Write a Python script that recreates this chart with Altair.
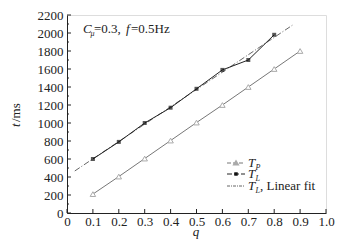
import altair as alt
import pandas as pd

# Data
q_p = [0.1, 0.2, 0.3, 0.4, 0.5, 0.6, 0.7, 0.8, 0.9]
t_p = [210, 405, 605, 805, 1005, 1200, 1400, 1600, 1800]
q_l = [0.1, 0.2, 0.3, 0.4, 0.5, 0.6, 0.7, 0.8]
t_l = [600, 790, 1000, 1170, 1380, 1590, 1700, 1980]
fit_q = [0.03, 0.87]
fit_t = [467, 2086]
x_ticks = [0, 0.1, 0.2, 0.3, 0.4, 0.5, 0.6, 0.7, 0.8, 0.9, 1.0]
y_ticks = [0, 200, 400, 600, 800, 1000, 1200, 1400, 1600, 1800, 2000, 2200]
y_minor = [100, 300, 500, 700, 900, 1100, 1300, 1500, 1700, 1900, 2100]

W, H = 259, 198
FONT = "Liberation Serif, Times New Roman, serif"
AX = "#222222"

xs = alt.Scale(domain=[0, 1], nice=False)
ys = alt.Scale(domain=[0, 2200], nice=False)

AXX = alt.Axis(values=x_ticks, ticks=False, grid=False, domainColor=AX,
               labelExpr="datum.value == 0 ? '0' : format(datum.value, '.1f')",
               labelFont=FONT, labelFontSize=13, labelColor=AX, labelPadding=2,
               title=None, labelFlush=False)
AXY = alt.Axis(values=y_ticks, ticks=False, grid=False, domainColor=AX,
               labelFont=FONT, labelFontSize=13, labelColor=AX, labelPadding=4,
               title=None, format="d")


def X(f):
    return alt.X(f, scale=xs, axis=AXX, title=None)


def Y(f):
    return alt.Y(f, scale=ys, axis=AXY, title=None)


dp = pd.DataFrame({"q": q_p, "t": t_p})
dl = pd.DataFrame({"q": q_l, "t": t_l})
dfit = pd.DataFrame({"q": fit_q, "t": fit_t})

fit = alt.Chart(dfit).mark_line(color="#666666", strokeWidth=1, strokeDash=[6, 2, 1, 2]).encode(
    x=X("q:Q"), y=Y("t:Q"))
lp = alt.Chart(dp).mark_line(color="#777777", strokeWidth=1).encode(x=X("q:Q"), y=Y("t:Q"))
pp = alt.Chart(dp).mark_point(shape="triangle-up", filled=False, color="#aaaaaa",
                              size=30, strokeWidth=1, fill="white", fillOpacity=1).encode(
    x=X("q:Q"), y=Y("t:Q"))
ll = alt.Chart(dl).mark_line(color="#222222", strokeWidth=1).encode(x=X("q:Q"), y=Y("t:Q"))
pl = alt.Chart(dl).mark_point(shape="square", filled=True, color="#111111", size=16).encode(
    x=X("q:Q"), y=Y("t:Q"))

# inward ticks
tx = alt.Chart(pd.DataFrame({"q": x_ticks})).mark_rule(color=AX, strokeWidth=1).encode(
    x=X("q:Q"), y=alt.value(H), y2=alt.value(H - 4))
tymaj = alt.Chart(pd.DataFrame({"t": y_ticks})).mark_rule(color=AX, strokeWidth=1).encode(
    y=Y("t:Q"), x=alt.value(0), x2=alt.value(4))
tymin = alt.Chart(pd.DataFrame({"t": y_minor})).mark_rule(color=AX, strokeWidth=1).encode(
    y=Y("t:Q"), x=alt.value(0), x2=alt.value(2))

one = pd.DataFrame({"a": [0]})


def txt(s, x, y, size=13, style="normal", angle=0, align="left", baseline="alphabetic"):
    return alt.Chart(one).mark_text(text=s, font=FONT, fontSize=size, fontStyle=style,
                                    angle=angle, align=align, baseline=baseline,
                                    color=AX).encode(x=alt.value(x), y=alt.value(y))


def seg(x1, x2, y, color, dash=None):
    kw = dict(color=color, strokeWidth=1)
    if dash:
        kw["strokeDash"] = dash
    return alt.Chart(one).mark_rule(**kw).encode(x=alt.value(x1), x2=alt.value(x2), y=alt.value(y))


def sym(x, y, shape, color, filled, size):
    return alt.Chart(one).mark_point(shape=shape, color=color, filled=filled, size=size,
                                     fill="white" if not filled else color, fillOpacity=1,
                                     opacity=1).encode(x=alt.value(x), y=alt.value(y))


annots = [
    # parameter annotation
    txt("C", 16, 18, style="italic"),
    txt("μ", 23.5, 20.5, size=8, style="italic"),
    txt("=0.3,", 27, 18),
    txt("f", 59, 18, style="italic"),
    txt("=0.5Hz", 64, 18),
    # axis titles
    txt("q", 129, 217, style="italic", align="center", baseline="middle"),
    txt("t", -51, 112, style="italic", angle=270, align="left", baseline="middle"),
    txt("/ms", -51, 107, angle=270, align="left", baseline="middle"),
    # legend
    seg(160, 178, 148, "#777777", [4, 2]),
    sym(169, 148, "triangle-up", "#aaaaaa", False, 14),
    txt("T", 181, 152, style="italic"),
    txt("P", 188.5, 154.5, size=8, style="italic"),
    seg(160, 178, 159, "#222222", [5, 2]),
    sym(169, 159, "square", "#111111", True, 12),
    txt("T", 181, 163, style="italic"),
    txt("L", 188.5, 165.5, size=8, style="italic"),
    seg(160, 178, 171, "#666666", [3, 1, 1, 1]),
    txt("T", 181, 175, style="italic"),
    txt("L", 188.5, 177.5, size=8, style="italic"),
    txt(", Linear fit", 193, 175),
]

chart = alt.layer(fit, lp, ll, pp, pl, tx, tymaj, tymin, *annots).properties(
    width=W, height=H,
    autosize=alt.AutoSizeParams(type="none"),
    padding={"left": 59, "top": 7, "right": 17, "bottom": 30},
).configure_view(stroke=None).configure(background="white")

chart.save("out.html", embed_options={"renderer": "svg", "actions": False})
